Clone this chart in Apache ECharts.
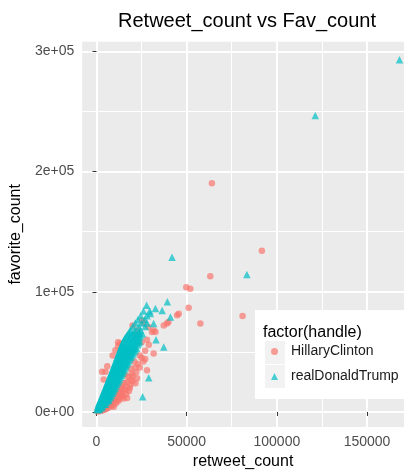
<!DOCTYPE html>
<html><head><meta charset="utf-8">
<script src="https://cdn.jsdelivr.net/npm/echarts@6/dist/echarts.min.js"></script>
<style>html,body{margin:0;padding:0;background:#fff}#c{width:404px;height:475px}</style>
</head><body><div id="c"></div>
<script>
const xTickValues = [0, 50000, 100000, 150000];
const xTickLabels = ['0', '50000', '100000', '150000'];
const xMinorValues = [25000, 75000, 125000];
const yTickValues = [0, 100000, 200000, 300000];
const yTickLabels = ['0e+00', '1e+05', '2e+05', '3e+05'];
const yMinorValues = [50000, 150000, 250000];
const seriesNames = ['HillaryClinton', 'realDonaldTrump'];

const hillary = [
[500,300],[1500,600],[2500,1000],[3500,1500],[4500,2000],[5500,2500],[6500,3500],[8000,4500],[9600,4400],
[3000,3500],[5000,5000],[7000,6500],[9000,8000],[11000,7500],[12500,9500],[15100,11300],[17000,11600],
[10000,11000],[12000,14000],[14000,15500],[16000,18000],[18500,20000],[13500,20000],[15500,24000],
[18800,22400],[21600,23800],[17700,29000],[20000,30000],[16000,31000],[22000,33000],[19000,36000],
[24000,37000],[28000,34800],[21000,42000],[26000,42000],[24000,47000],[27000,51000],[31700,48600],
[3100,33400],[5000,33400],[4000,27000],[6000,38000],[9000,47000],[12000,55000],[13300,56900],[12000,58000],[10500,51400],
[17700,51000],[21600,63800],[25300,76000],[26000,74000],[28800,70700],[30800,66500],[32700,66500],[31700,68000],
[37300,72000],[39100,73500],[39900,74800],[44700,80400],[45600,81800],[51100,86700],[57600,73500],[81000,79800],
[49800,103800],[52000,102500],[63100,113000],[91700,134200],[64000,190300],[25000,58000],[28000,60000],
[23000,68000],[20000,72000],[27000,44000],[29000,56000],
[9000,6000],[10500,9000],[12000,10500],[13500,12000],[11500,12500],[13000,16500],[14500,13500],[15000,19000],
[16500,21000],[17000,25000],[19000,27000],[12000,17000],[14000,22000],[16500,15000],[18000,17500],[20000,25500],
[22500,28000],[19500,32000],[21500,37000],[23000,40000],[25000,45000]
];

const trump = [
[300,2000],[900,2000],[1500,2000],
[500,3500],[1300,3500],[2100,3500],[2900,3500],
[800,5000],[1700,5000],[2600,5000],[3500,5000],
[1100,6500],[2100,6500],[3100,6500],[4100,6500],[5000,6500],
[1500,8000],[2500,8000],[3500,8000],[4500,8000],[5500,8000],
[2000,9500],[3000,9500],[4000,9500],[5000,9500],[6000,9500],[6800,9500],
[2500,11000],[3400,11000],[4300,11000],[5200,11000],[6100,11000],[7000,11000],
[2800,12500],[3800,12500],[4800,12500],[5800,12500],[6800,12500],[7800,12500],
[3200,14000],[4200,14000],[5200,14000],[6200,14000],[7200,14000],[8300,14000],
[3600,15500],[4700,15500],[5800,15500],[6900,15500],[7900,15500],[8900,15500],
[4000,17000],[5100,17000],[6200,17000],[7300,17000],[8300,17000],[9300,17000],
[4400,18500],[5500,18500],[6600,18500],[7700,18500],[8800,18500],[9800,18500],
[4800,20000],[5900,20000],[7000,20000],[8100,20000],[9200,20000],[10300,20000],
[5200,21500],[6300,21500],[7400,21500],[8500,21500],[9600,21500],[10800,21500],
[5600,23000],[6700,23000],[7800,23000],[8900,23000],[10000,23000],[11200,23000],
[6000,24500],[7200,24500],[8400,24500],[9600,24500],[10700,24500],[11800,24500],
[6400,26000],[7600,26000],[8800,26000],[10000,26000],[11200,26000],[12300,26000],
[6800,27500],[8000,27500],[9200,27500],[10400,27500],[11600,27500],[12800,27500],
[7200,29000],[8400,29000],[9600,29000],[10800,29000],[12000,29000],[13300,29000],
[7600,30500],[8900,30500],[10200,30500],[11400,30500],[12600,30500],[13800,30500],
[8000,32000],[9300,32000],[10600,32000],[11900,32000],[13100,32000],[14300,32000],
[8400,33500],[9700,33500],[11000,33500],[12300,33500],[13600,33500],[14800,33500],
[8800,35000],[10100,35000],[11400,35000],[12700,35000],[14000,35000],[15300,35000],
[9200,36500],[10500,36500],[11900,36500],[13200,36500],[14500,36500],[15800,36500],
[9500,38000],[10900,38000],[12300,38000],[13600,38000],[15000,38000],[16300,38000],
[9900,39500],[11300,39500],[12700,39500],[14100,39500],[15500,39500],[16800,39500],
[10300,41000],[11700,41000],[13100,41000],[14500,41000],[15900,41000],[17300,41000],
[10700,42500],[12100,42500],[13600,42500],[15000,42500],[16500,42500],[17900,42500],
[11000,44000],[12500,44000],[14000,44000],[15500,44000],[17000,44000],[18500,44000],
[11400,45500],[13000,45500],[14500,45500],[16100,45500],[17600,45500],[19100,45500],
[11800,47000],[13400,47000],[15000,47000],[16600,47000],[18200,47000],[19700,47000],
[12200,48500],[13800,48500],[15500,48500],[17100,48500],[18800,48500],[20300,48500],
[12500,50000],[14200,50000],[15900,50000],[17600,50000],[19300,50000],[21000,50000],
[12900,51500],[14700,51500],[16400,51500],[18200,51500],[19900,51500],[21600,51500],
[13300,53000],[15100,53000],[16900,53000],[18700,53000],[20500,53000],[22200,53000],
[13700,54500],[15600,54500],[17600,54500],[19600,54500],[21600,54500],
[14000,56000],[16200,56000],[18400,56000],[20600,56000],[23000,56000],
[14500,57500],[16700,57500],[19000,57500],[21200,57500],[23500,57500],
[15000,59000],[17200,59000],[19500,59000],[21800,59000],[24000,59000],
[15500,60500],[17800,60500],[20300,60500],[22800,60500],
[16000,62000],[18500,62000],[21000,62000],[23800,62000],
[16800,63500],[19300,63500],[22000,63500],[24500,63500],
[17500,65000],[20000,65000],[22800,65000],[25500,65000],
[18200,66500],[21000,66500],[23800,66500],
[18800,68000],[21800,68000],[24500,68000],
[20000,71000],[23500,71000],[27000,71000],
[21500,74000],[25000,74000],[28000,74000],
[23000,77000],[26800,77000],
[24500,80000],[28000,80000],
[26000,84000],[29500,84000],
[27800,88700],[29900,82000],[31700,73500],[32700,86000],[36400,84500],[39300,91700],[41000,79000],
[37300,54100],[33000,60000],[29000,28400],[25600,12700],[23400,65200],
[41900,128700],[83400,114400],[121300,246700],[168000,293000]
];

const FONT = 'Liberation Sans, Arial, sans-serif';
const xMin = -7900, xMax = 170500, yMin = -12500, yMax = 308000;
function lookup(vals, labels, v) {
  for (let i = 0; i < vals.length; i++) if (Math.abs(vals[i] - v) < 1) return labels[i];
  return '';
}

const chart = echarts.init(document.getElementById('c'), null, {renderer: 'canvas'});
chart.setOption({
  animation: false,
  backgroundColor: '#fff',
  textStyle: {fontFamily: FONT},
  title: {
    text: 'Retweet_count vs Fav_count', left: 247, top: 11, textAlign: 'center', padding: 0,
    textStyle: {fontSize: 20, fontWeight: 'normal', color: '#000', fontFamily: FONT}
  },
  grid: {left: 82, right: 0, top: 41.7, bottom: 46.7, show: true, backgroundColor: '#EBEBEB', borderWidth: 0, containLabel: false},
  xAxis: [{
    type: 'value', min: xMin, max: xMax,
    name: 'retweet_count', nameLocation: 'middle', nameGap: 27,
    nameTextStyle: {fontSize: 16, color: '#000', fontFamily: FONT},
    axisLine: {show: false},
    axisTick: {show: true, customValues: xTickValues, length: 4, lineStyle: {color: '#333', width: 1}},
    axisLabel: {customValues: xTickValues, formatter: v => lookup(xTickValues, xTickLabels, v), fontSize: 14, color: '#4D4D4D', margin: 8, fontFamily: FONT},
    splitLine: {show: true, lineStyle: {color: '#fff', width: 2}}
  }, {
    type: 'value', min: xMin, max: xMax, position: 'bottom',
    axisLine: {show: false},
    axisTick: {show: false, customValues: xMinorValues},
    axisLabel: {show: false, customValues: xMinorValues},
    splitLine: {show: true, lineStyle: {color: '#fff', width: 1}}
  }],
  yAxis: [{
    type: 'value', min: yMin, max: yMax,
    name: 'favorite_count', nameLocation: 'middle', nameGap: 52, nameRotate: 90,
    nameTextStyle: {fontSize: 16, color: '#000', fontFamily: FONT},
    axisLine: {show: false},
    axisTick: {show: true, customValues: yTickValues, length: 4, lineStyle: {color: '#333', width: 1}},
    axisLabel: {customValues: yTickValues, formatter: v => lookup(yTickValues, yTickLabels, v), fontSize: 14, color: '#4D4D4D', margin: 8, fontFamily: FONT},
    splitLine: {show: true, lineStyle: {color: '#fff', width: 2}}
  }, {
    type: 'value', min: yMin, max: yMax, position: 'left',
    axisLine: {show: false},
    axisTick: {show: false, customValues: yMinorValues},
    axisLabel: {show: false, customValues: yMinorValues},
    splitLine: {show: true, lineStyle: {color: '#fff', width: 1}}
  }],
  legend: {
    orient: 'vertical', left: 271, top: 343, itemWidth: 7, itemHeight: 7, itemGap: 8,
    selectedMode: false, z: 60, padding: 0,
    textStyle: {fontSize: 14, color: '#1a1a1a', lineHeight: 17, padding: [0, 0, 0, 8], fontFamily: FONT},
    data: [{name: seriesNames[0], icon: 'circle'}, {name: seriesNames[1], icon: 'triangle'}]
  },
  graphic: [
    {type: 'rect', z: 50, shape: {x: 255, y: 310, width: 160, height: 89}, style: {fill: '#fff'}},
    {type: 'rect', z: 51, shape: {x: 265, y: 341, width: 20, height: 23}, style: {fill: '#F2F2F2'}},
    {type: 'rect', z: 51, shape: {x: 265, y: 365, width: 20, height: 23}, style: {fill: '#F2F2F2'}},
    {type: 'text', z: 52, style: {text: 'factor(handle)', x: 263, y: 333, fontSize: 16, fill: '#000', verticalAlign: 'middle', fontFamily: FONT}}
  ],
  series: [{
    name: seriesNames[0], type: 'scatter', symbol: 'circle', symbolSize: 6.5,
    itemStyle: {color: '#F8766D', opacity: 0.7}, data: hillary, xAxisIndex: 0, yAxisIndex: 0, z: 2
  }, {
    name: seriesNames[1], type: 'scatter', symbol: 'triangle', symbolSize: 7.5,
    itemStyle: {color: '#00BFC4', opacity: 0.7}, data: trump, xAxisIndex: 0, yAxisIndex: 0, z: 3
  }]
});
</script></body></html>
